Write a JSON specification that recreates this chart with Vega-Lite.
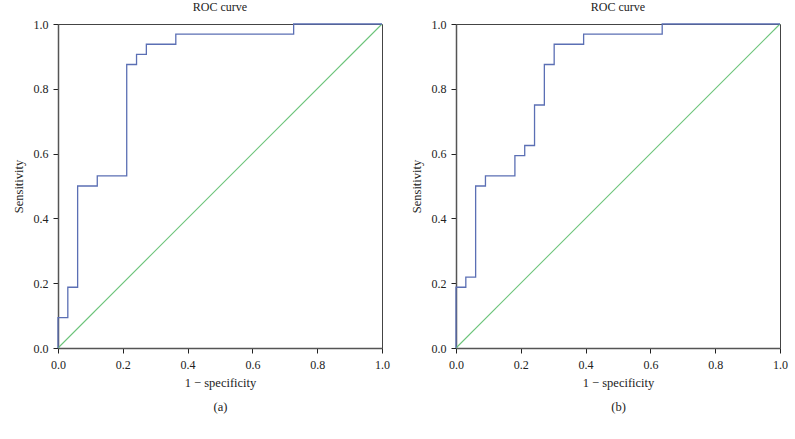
{
  "$schema": "https://vega.github.io/schema/vega-lite/v6.json",
  "background": "white",
  "padding": {"left": 11, "top": 0, "right": 8, "bottom": 4},
  "config": {
    "font": "Liberation Serif",
    "view": {"stroke": "#444", "strokeWidth": 1},
    "axis": {
      "grid": false,
      "labelFlush": false,
      "labelOverlap": false,
      "domainColor": "#555",
      "domainWidth": 1.5,
      "tickColor": "#222",
      "tickSize": 5,
      "labelFont": "Liberation Serif",
      "labelFontSize": 12,
      "labelColor": "#222",
      "titleFont": "Liberation Serif",
      "titleFontSize": 12.5,
      "titleFontWeight": "normal",
      "titleColor": "#222"
    },
    "title": {"font": "Liberation Serif", "fontSize": 12, "fontWeight": "normal", "color": "#222", "offset": 4}
  },
  "datasets": {
    "roc_a": [
      {"i": 0, "x": 0, "y": 0},
      {"i": 1, "x": 0, "y": 0.09375},
      {"i": 2, "x": 0.0303, "y": 0.1875},
      {"i": 3, "x": 0.0606, "y": 0.5},
      {"i": 4, "x": 0.1212, "y": 0.53125},
      {"i": 5, "x": 0.2121, "y": 0.875},
      {"i": 6, "x": 0.2424, "y": 0.90625},
      {"i": 7, "x": 0.2727, "y": 0.9375},
      {"i": 8, "x": 0.3636, "y": 0.96875},
      {"i": 9, "x": 0.7273, "y": 1},
      {"i": 10, "x": 1, "y": 1}
    ],
    "roc_b": [
      {"i": 0, "x": 0, "y": 0},
      {"i": 1, "x": 0, "y": 0.1875},
      {"i": 2, "x": 0.0303, "y": 0.21875},
      {"i": 3, "x": 0.0606, "y": 0.5},
      {"i": 4, "x": 0.0909, "y": 0.53125},
      {"i": 5, "x": 0.1818, "y": 0.59375},
      {"i": 6, "x": 0.2121, "y": 0.625},
      {"i": 7, "x": 0.2424, "y": 0.75},
      {"i": 8, "x": 0.2727, "y": 0.875},
      {"i": 9, "x": 0.303, "y": 0.9375},
      {"i": 10, "x": 0.3939, "y": 0.96875},
      {"i": 11, "x": 0.6364, "y": 1},
      {"i": 12, "x": 1, "y": 1}
    ],
    "diag": [
      {"i": 0, "x": 0, "y": 0},
      {"i": 1, "x": 1, "y": 1}
    ]
  },
  "spacing": 19,
  "hconcat": [
    {
      "title": "ROC curve",
      "width": 324,
      "height": 324,
      "encoding": {
        "x": {"field": "x", "type": "quantitative", "scale": {"domain": [0, 1], "nice": false, "zero": false}, "axis": {"format": ".1f", "values": [0, 0.2, 0.4, 0.6, 0.8, 1], "labelPadding": 6, "titlePadding": 6, "titleLineHeight": 24, "title": ["1 − specificity", "(a)"]}},
        "y": {"field": "y", "type": "quantitative", "scale": {"domain": [0, 1], "nice": false, "zero": false}, "axis": {"format": ".1f", "values": [0, 0.2, 0.4, 0.6, 0.8, 1], "labelPadding": 5, "titlePadding": 8, "title": "Sensitivity"}},
        "order": {"field": "i"}
      },
      "layer": [
        {
          "data": {"name": "diag"},
          "mark": {"type": "line", "color": "#6cc47a", "strokeWidth": 1.1}
        },
        {
          "data": {"name": "roc_a"},
          "mark": {"type": "line", "interpolate": "step-after", "color": "#5b6fb4", "strokeWidth": 1.3}
        }
      ]
    },
    {
      "title": "ROC curve",
      "width": 324,
      "height": 324,
      "encoding": {
        "x": {"field": "x", "type": "quantitative", "scale": {"domain": [0, 1], "nice": false, "zero": false}, "axis": {"format": ".1f", "values": [0, 0.2, 0.4, 0.6, 0.8, 1], "labelPadding": 6, "titlePadding": 6, "titleLineHeight": 24, "title": ["1 − specificity", "(b)"]}},
        "y": {"field": "y", "type": "quantitative", "scale": {"domain": [0, 1], "nice": false, "zero": false}, "axis": {"format": ".1f", "values": [0, 0.2, 0.4, 0.6, 0.8, 1], "labelPadding": 5, "titlePadding": 8, "title": "Sensitivity"}},
        "order": {"field": "i"}
      },
      "layer": [
        {
          "data": {"name": "diag"},
          "mark": {"type": "line", "color": "#6cc47a", "strokeWidth": 1.1}
        },
        {
          "data": {"name": "roc_b"},
          "mark": {"type": "line", "interpolate": "step-after", "color": "#5b6fb4", "strokeWidth": 1.3}
        }
      ]
    }
  ]
}
